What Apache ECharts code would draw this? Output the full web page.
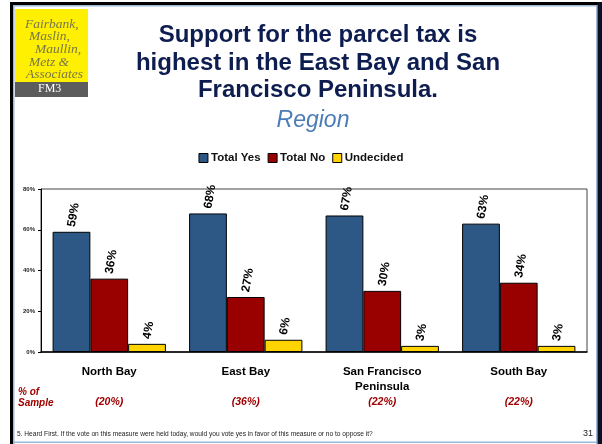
<!DOCTYPE html>
<html>
<head>
<meta charset="utf-8">
<script src="https://cdn.jsdelivr.net/npm/echarts@6/dist/echarts.min.js"></script>
<style>
html,body{margin:0;padding:0;background:#fff;}
#main{width:602px;height:444px;}
</style>
</head>
<body>
<div id="main"></div>
<script>
const categories = ['North Bay', 'East Bay', 'San Francisco\nPeninsula', 'South Bay'];
const sampleShares = ['(20%)', '(36%)', '(22%)', '(22%)'];
const totalYes = [59, 68, 67, 63];
const totalNo = [36, 27, 30, 34];
const undecided = [4, 6, 3, 3];
const yTicks = [0, 20, 40, 60, 80];

const chart = echarts.init(document.getElementById('main'), null, {renderer: 'canvas'});

const labelStyle = {
  show: true,
  position: 'top',
  rotate: 80,
  align: 'left',
  verticalAlign: 'middle',
  distance: 5,
  formatter: '{c}%',
  fontFamily: 'Liberation Sans, Arial, sans-serif',
  fontWeight: 'bold',
  fontSize: 12,
  color: '#000'
};

function barSeries(name, data, color) {
  return {
    name: name,
    type: 'bar',
    data: data,
    barGap: '0%',
    barCategoryGap: '17%',
    itemStyle: {color: color, borderColor: '#000', borderWidth: 1},
    label: labelStyle
  };
}

const logoFont = 'italic 13.5px "Liberation Serif", serif';
const logoColor = '#77774a';

const option = {
  backgroundColor: '#fff',
  animation: false,
  title: [{
    text: 'Support for the parcel tax is\nhighest in the East Bay and San\nFrancisco Peninsula.',
    left: 313, top: 17, textAlign: 'center',
    textStyle: {fontFamily: 'Liberation Sans, Arial, sans-serif', fontWeight: 'bold', fontSize: 24, lineHeight: 27.5, color: '#0e1d4f'}
  }, {
    text: 'Region',
    left: 308, top: 104, textAlign: 'center',
    textStyle: {fontFamily: 'Liberation Sans, Arial, sans-serif', fontStyle: 'italic', fontWeight: 'normal', fontSize: 23, color: '#4a7db7'}
  }],
  legend: {
    top: 147, left: 'center',
    itemWidth: 9, itemHeight: 9, itemGap: 7,
    icon: 'rect',
    itemStyle: {borderColor: '#000', borderWidth: 1},
    textStyle: {fontFamily: 'Liberation Sans, Arial, sans-serif', fontWeight: 'bold', fontSize: 11.5, color: '#111', padding: [0, 0, 0, -2]},
    data: ['Total Yes', 'Total No', 'Undecided']
  },
  grid: {left: 41, right: 15, top: 189, bottom: 92, show: true, borderColor: '#444', borderWidth: 1, backgroundColor: 'transparent'},
  xAxis: [{
    type: 'category',
    data: categories,
    position: 'bottom',
    axisLine: {lineStyle: {color: '#000', width: 1.5}},
    axisTick: {show: false},
    axisLabel: {margin: 12, fontFamily: 'Liberation Sans, Arial, sans-serif', fontWeight: 'bold', fontSize: 11.5, lineHeight: 15, color: '#000', interval: 0}
  }, {
    type: 'category',
    data: sampleShares,
    position: 'bottom',
    axisLine: {show: false},
    axisTick: {show: false},
    axisLabel: {margin: 45, fontFamily: 'Liberation Sans, Arial, sans-serif', fontWeight: 'bold', fontStyle: 'italic', fontSize: 10.5, color: '#a00000', interval: 0}
  }],
  yAxis: {
    type: 'value',
    min: yTicks[0], max: yTicks[yTicks.length - 1], interval: 20,
    axisLine: {show: true, lineStyle: {color: '#000', width: 1}},
    axisTick: {show: true, length: 3, lineStyle: {color: '#000'}},
    splitLine: {show: false},
    axisLabel: {formatter: '{value}%', margin: 6, fontFamily: 'Liberation Sans, Arial, sans-serif', fontWeight: 'bold', fontSize: 6, color: '#222'}
  },
  series: [
    barSeries('Total Yes', totalYes, '#2d5886'),
    barSeries('Total No', totalNo, '#990000'),
    barSeries('Undecided', undecided, '#ffd400')
  ],
  graphic: [
    // slide frame
    {type: 'rect', shape: {x: 10, y: 2, width: 592, height: 3}, style: {fill: '#000'}, silent: true},
    {type: 'rect', shape: {x: 13, y: 5, width: 583, height: 1.5}, style: {fill: '#9fb8d8'}, silent: true},
    {type: 'rect', shape: {x: 10, y: 2, width: 3, height: 442}, style: {fill: '#000'}, silent: true},
    {type: 'rect', shape: {x: 13, y: 5, width: 1.5, height: 439}, style: {fill: '#9fb8d8'}, silent: true},
    {type: 'rect', shape: {x: 596, y: 5, width: 1.5, height: 439}, style: {fill: '#9fb8d8'}, silent: true},
    {type: 'rect', shape: {x: 597.5, y: 2, width: 4.5, height: 442}, style: {fill: '#0a0f24'}, silent: true},
    {type: 'rect', shape: {x: 13, y: 441.5, width: 584, height: 1.5}, style: {fill: '#9fb8d8'}, silent: true},
    // logo
    {type: 'rect', shape: {x: 15, y: 9, width: 73, height: 74}, style: {fill: '#ffef00'}, silent: true},
    {type: 'rect', shape: {x: 15, y: 82, width: 73, height: 15}, style: {fill: '#5c5c5c'}, silent: true},
    {type: 'text', left: 25, top: 17, style: {text: 'Fairbank,', font: logoFont, fill: logoColor}, silent: true},
    {type: 'text', left: 29, top: 29, style: {text: 'Maslin,', font: logoFont, fill: logoColor}, silent: true},
    {type: 'text', left: 35, top: 42, style: {text: 'Maullin,', font: logoFont, fill: logoColor}, silent: true},
    {type: 'text', left: 29, top: 55, style: {text: 'Metz &', font: logoFont, fill: logoColor}, silent: true},
    {type: 'text', left: 26, top: 67, style: {text: 'Associates', font: logoFont, fill: logoColor}, silent: true},
    {type: 'text', left: 38, top: 83, style: {text: 'FM3', font: '12px "Liberation Serif", serif', fill: '#ffffff'}, silent: true},
    // % of Sample label
    {type: 'text', left: 18, top: 386, style: {text: '% of\nSample', font: 'italic bold 10px "Liberation Sans", Arial, sans-serif', fill: '#a00000', lineHeight: 11.5}, silent: true},
    // footer
    {type: 'text', left: 17, top: 431, style: {text: '5. Heard First. If the vote on this measure were held today, would you vote yes in favor of this measure or no to oppose it?', font: '6.6px "Liberation Sans", Arial, sans-serif', fill: '#222'}, silent: true},
    {type: 'text', left: 583, top: 429, style: {text: '31', font: '9px "Liberation Sans", Arial, sans-serif', fill: '#222'}, silent: true}
  ]
};

chart.setOption(option);
</script>
</body>
</html>
